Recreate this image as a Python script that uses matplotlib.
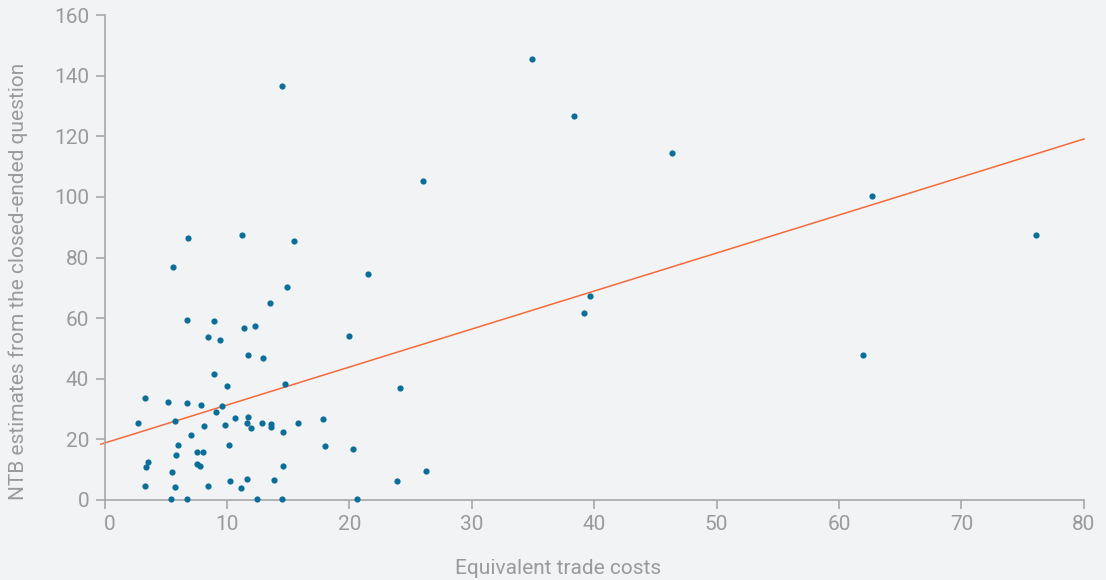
import matplotlib.pyplot as plt
from matplotlib.transforms import ScaledTranslation

# equivalent trade costs (x) vs NTB estimates from closed-ended question (y)
trade_costs = [
    34.95, 38.36, 14.53, 46.36, 26.05, 62.7, 76.08, 6.82, 11.23, 15.5,
    5.62, 21.5, 14.94, 13.52, 39.66, 39.15, 6.71, 8.92, 11.42, 12.32,
    20.0, 8.43, 9.44, 61.97, 11.75, 12.92, 8.92, 10.0, 14.75, 24.14,
    3.34, 5.22, 6.74, 7.91, 9.63, 9.14, 5.73, 2.74, 8.13, 9.82,
    10.63, 11.75, 11.61, 11.94, 12.84, 13.63, 13.63, 15.81, 17.85, 14.61,
    7.04, 10.14, 6.03, 18.04, 20.33, 5.84, 7.53, 8.05, 3.53, 3.42,
    7.53, 7.83, 14.61, 5.51, 26.24, 3.34, 5.73, 8.43, 10.25, 11.64,
    11.12, 13.82, 23.92, 5.41, 6.71, 12.43, 14.53, 20.63,
]
ntb_estimates = [
    145.4, 126.8, 136.6, 114.4, 105.3, 100.3, 87.4, 86.6, 87.5, 85.6,
    76.8, 74.5, 70.3, 65.0, 67.3, 61.7, 59.4, 59.1, 56.9, 57.5,
    54.0, 53.9, 52.8, 47.9, 47.9, 47.0, 41.4, 37.7, 38.4, 37.1,
    33.8, 32.3, 31.9, 31.2, 31.0, 28.9, 26.1, 25.3, 24.5, 24.9,
    27.2, 27.4, 25.3, 23.9, 25.3, 25.0, 24.2, 25.3, 26.7, 22.3,
    21.6, 18.3, 18.3, 17.8, 16.9, 14.9, 15.7, 15.7, 12.5, 10.8,
    11.8, 11.1, 11.2, 9.2, 9.6, 4.7, 4.2, 4.6, 6.4, 7.0,
    4.1, 6.7, 6.4, 0.3, 0.3, 0.3, 0.3, 0.3,
]

# fitted trend line end points
trend_x = [-0.3, 80]
trend_y = [18.4, 119.1]

x_ticks = [0, 10, 20, 30, 40, 50, 60, 70, 80]
y_ticks = [0, 20, 40, 60, 80, 100, 120, 140, 160]

bg = '#f2f3f5'
grey = '#a8a8a8'
plt.rcParams['font.family'] = ['Roboto', 'DejaVu Sans']

fig = plt.figure(figsize=(11.06, 5.8), dpi=100, facecolor=bg)
ax = fig.add_axes([0.0945, 0.138, 0.8855, 0.836], facecolor=bg)

ax.plot(trend_x, trend_y, color='#f26b3a', linewidth=1.1, zorder=2, clip_on=False)
ax.scatter(trade_costs, ntb_estimates, s=20, color='#0b6e99', zorder=3,
           clip_on=False, linewidths=0)

ax.set_xlim(0, 80)
ax.set_ylim(0, 160)
ax.set_xticks(x_ticks)
ax.set_yticks(y_ticks)

for side in ['top', 'right']:
    ax.spines[side].set_visible(False)
for side in ['left', 'bottom']:
    ax.spines[side].set_color(grey)
    ax.spines[side].set_linewidth(1.2)

ax.tick_params(colors=grey, labelcolor='#9a9a9a', labelsize=15,
               length=6.5, width=1.2, pad=4.5)

# the "0" on the x axis sits a little right of its tick
first = ax.get_xticklabels()[0]
first.set_transform(first.get_transform() + ScaledTranslation(0.055, 0, fig.dpi_scale_trans))

ax.set_xlabel('Equivalent trade costs', fontsize=15, color='#9a9a9a')
ax.set_ylabel('NTB estimates from the closed-ended question', fontsize=15,
              color='#9a9a9a')
ax.xaxis.set_label_coords(0.4635, -0.122)
ax.yaxis.set_label_coords(-0.078, 0.45)

fig.savefig('out.png', dpi=100, facecolor=bg)
